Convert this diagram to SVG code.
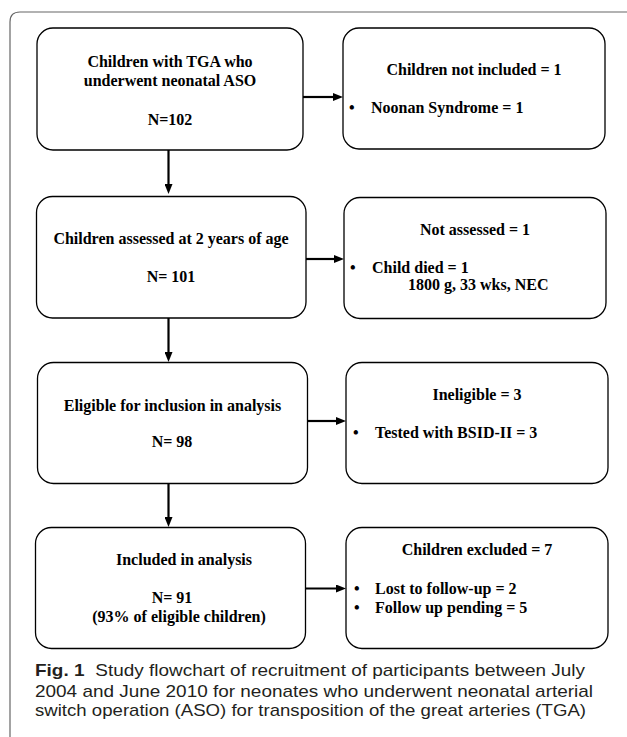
<svg xmlns="http://www.w3.org/2000/svg" width="627" height="737" viewBox="0 0 627 737">
<defs>
<marker id="ah" markerUnits="userSpaceOnUse" markerWidth="10" markerHeight="8" refX="2" refY="4" orient="auto">
<path d="M0,0 L10,4 L0,8 z" fill="#000"/>
</marker>
<style>
.box{fill:#fff;stroke:#000;stroke-width:1.3}
.t{font-family:"Liberation Serif","Times New Roman",serif;font-weight:bold;font-size:16px;fill:#000}
.m{text-anchor:middle}
.c{stroke:#000;stroke-width:2.2;fill:none;marker-end:url(#ah)}
.cap{font-family:"Liberation Sans",Arial,sans-serif;font-size:17px;fill:#231f20}
</style>
</defs>
<rect width="627" height="737" fill="#fff"/>
<path d="M10,737 V22 Q10,12 20,12 H627" fill="none" stroke="#666" stroke-width="1.2"/>

<g id="n1">
<rect class="box" x="37" y="28" width="266" height="122" rx="16"/>
<text class="t m" x="170" y="66.5">Children with TGA who</text>
<text class="t m" x="170" y="86">underwent neonatal ASO</text>
<text class="t m" x="170" y="125">N=102</text>
</g>
<g id="r1">
<rect class="box" x="343" y="28" width="262" height="121" rx="16"/>
<text class="t m" x="474" y="75">Children not included = 1</text>
<text class="t" x="349" y="113">•</text>
<text class="t" x="371" y="113">Noonan Syndrome = 1</text>
</g>
<g id="n2">
<rect class="box" x="36.5" y="196.5" width="269.5" height="121.5" rx="16"/>
<text class="t m" x="171" y="244">Children assessed at 2 years of age</text>
<text class="t m" x="171" y="281.5">N= 101</text>
</g>
<g id="r2">
<rect class="box" x="344" y="197.5" width="262" height="121" rx="16"/>
<text class="t m" x="475" y="235">Not assessed = 1</text>
<text class="t" x="350" y="273">•</text>
<text class="t" x="372" y="273">Child died = 1</text>
<text class="t" x="408" y="290">1800 g, 33 wks, NEC</text>
</g>
<g id="n3">
<rect class="box" x="37.5" y="362.5" width="270" height="121" rx="16"/>
<text class="t m" x="172.5" y="411">Eligible for inclusion in analysis</text>
<text class="t m" x="172" y="446.5">N= 98</text>
</g>
<g id="r3">
<rect class="box" x="346" y="362.5" width="262" height="121" rx="16"/>
<text class="t m" x="477" y="400">Ineligible = 3</text>
<text class="t" x="353" y="438">•</text>
<text class="t" x="375" y="438">Tested with BSID-II = 3</text>
</g>
<g id="n4">
<rect class="box" x="35.5" y="527.5" width="270" height="121" rx="16"/>
<text class="t m" x="184" y="565">Included in analysis</text>
<text class="t m" x="172" y="603">N= 91</text>
<text class="t m" x="179" y="621.5">(93% of eligible children)</text>
</g>
<g id="r4">
<rect class="box" x="346" y="527.5" width="262" height="121" rx="16"/>
<text class="t m" x="477" y="555">Children excluded = 7</text>
<text class="t" x="354" y="594">•</text>
<text class="t" x="375" y="594">Lost to follow-up = 2</text>
<text class="t" x="354" y="612.5">•</text>
<text class="t" x="375" y="612.5">Follow up pending = 5</text>
</g>

<g id="connectors">
<line class="c" x1="168.5" y1="150" x2="168.5" y2="186"/>
<line class="c" x1="168.5" y1="318" x2="168.5" y2="354"/>
<line class="c" x1="168.5" y1="483.5" x2="168.5" y2="519"/>
<line class="c" x1="303" y1="97" x2="335" y2="97"/>
<line class="c" x1="306" y1="259" x2="336" y2="259"/>
<line class="c" x1="307.5" y1="421" x2="338" y2="421"/>
<line class="c" x1="305.5" y1="588.5" x2="338" y2="588.5"/>
</g>

<g id="caption">
<text class="cap" x="35" y="676" textLength="550" lengthAdjust="spacingAndGlyphs"><tspan font-weight="bold">Fig. 1</tspan><tspan dx="5"> Study flowchart of recruitment of participants between July</tspan></text>
<text class="cap" x="35" y="696.5" textLength="558" lengthAdjust="spacingAndGlyphs">2004 and June 2010 for neonates who underwent neonatal arterial</text>
<text class="cap" x="35" y="716" textLength="551" lengthAdjust="spacingAndGlyphs">switch operation (ASO) for transposition of the great arteries (TGA)</text>
</g>
</svg>
